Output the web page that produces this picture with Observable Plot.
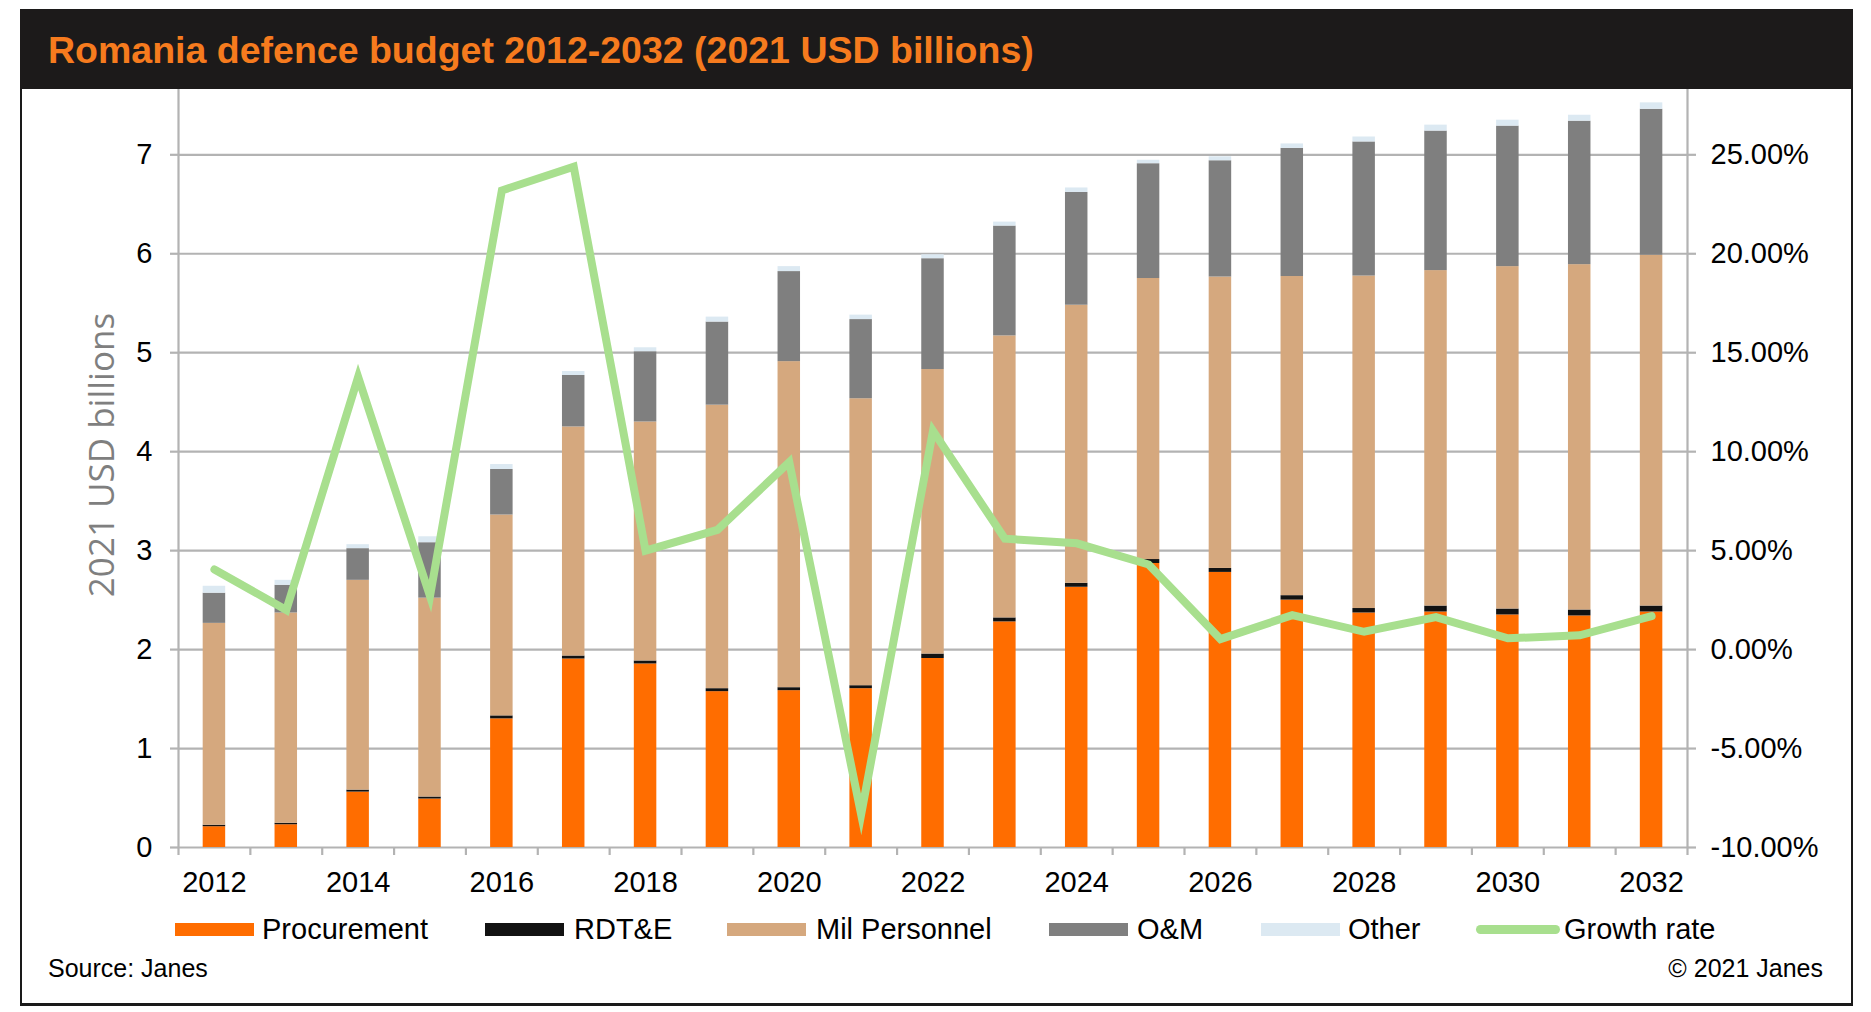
<!DOCTYPE html>
<html>
<head>
<meta charset="utf-8">
<script src="https://cdn.jsdelivr.net/npm/d3@7"></script>
<script src="https://cdn.jsdelivr.net/npm/@observablehq/plot@0.6"></script>
<style>
  html, body { margin: 0; padding: 0; background: #fff; width: 1871px; height: 1012px; overflow: hidden;
    font-family: "Liberation Sans", Arial, sans-serif; }
  #frame { position: absolute; left: 20px; top: 9px; width: 1833px; height: 997px;
    border: 2px solid #1a1a1a; border-bottom-width: 3px; box-sizing: border-box; }
  #titlebar { position: absolute; left: 20px; top: 9px; width: 1833px; height: 80px; background: #1c1a1a; }
  #title { position: absolute; left: 48px; top: 9px; height: 80px; line-height: 82px; font-weight: bold;
    font-size: 37.5px; color: #f67b1e; white-space: nowrap; }
  #chart { position: absolute; left: 0; top: 89px; }
  #ylabel { position: absolute; left: 100px; top: 455px; transform: translate(-50%, -50%) rotate(-90deg);
    font-family: "Open Sans", sans-serif; font-size: 35px; color: #7f7f7f; white-space: nowrap; }
  .leg-sw { position: absolute; height: 13px; top: 923px; }
  .leg-tx { position: absolute; top: 909px; height: 40px; line-height: 40px; font-size: 29px; color: #000; white-space: nowrap; }
  .foot { position: absolute; top: 952px; height: 32px; line-height: 32px; font-size: 25px; color: #000; white-space: nowrap; }
</style>
</head>
<body>
<div id="frame"></div>
<div id="titlebar"></div>
<div id="title">Romania defence budget 2012-2032 (2021 USD billions)</div>
<div id="chart"></div>
<div id="ylabel">2021 USD billions</div>
<div id="legend"></div>
<div class="foot" style="left:48px">Source: Janes</div>
<div class="foot" style="right:48px">© 2021 Janes</div>
<script>
// ---- data ----
const years = [2012, 2013, 2014, 2015, 2016, 2017, 2018, 2019, 2020, 2021, 2022,
               2023, 2024, 2025, 2026, 2027, 2028, 2029, 2030, 2031, 2032];
const categories = ["Procurement", "RDT&E", "Mil Personnel", "O&M", "Other"];
const procurement = [0.21, 0.23, 0.56, 0.49, 1.30, 1.905, 1.855, 1.575, 1.585, 1.605, 1.91,
                     2.28, 2.63, 2.87, 2.78, 2.50, 2.37, 2.38, 2.35, 2.34, 2.38];
const rdte = [0.015, 0.015, 0.02, 0.02, 0.03, 0.03, 0.03, 0.03, 0.03, 0.03, 0.045,
              0.04, 0.04, 0.04, 0.04, 0.045, 0.045, 0.06, 0.06, 0.06, 0.06];
const milPersonnel = [2.04, 2.125, 2.12, 2.01, 2.03, 2.315, 2.415, 2.865, 3.295, 2.90, 2.875,
                      2.85, 2.81, 2.84, 2.945, 3.225, 3.36, 3.39, 3.46, 3.49, 3.545];
const om = [0.305, 0.28, 0.32, 0.56, 0.46, 0.52, 0.71, 0.84, 0.91, 0.80, 1.12,
            1.11, 1.14, 1.16, 1.175, 1.295, 1.355, 1.41, 1.42, 1.45, 1.475];
const other = [0.07, 0.05, 0.04, 0.06, 0.05, 0.04, 0.04, 0.05, 0.05, 0.045, 0.04,
               0.04, 0.045, 0.035, 0.04, 0.045, 0.05, 0.06, 0.06, 0.06, 0.065];
const growthRate = [4.05, 2.0, 13.77, 2.7, 23.2, 24.4, 5.0, 6.05, 9.47, -8.33, 11.05,
                    5.6, 5.37, 4.3, 0.53, 1.74, 0.9, 1.64, 0.57, 0.72, 1.69];
const yTicks = [0, 1, 2, 3, 4, 5, 6, 7];
const xLabelYears = [2012, 2014, 2016, 2018, 2020, 2022, 2024, 2026, 2028, 2030, 2032];
// right axis: -10% at 0 on the left axis, 5 percentage points per left unit
const rightMin = -10, rightStep = 5;

const colors = ["#ff6d00", "#121212", "#d5a87e", "#7f7f7f", "#dce9f2"];
const growthColor = "#a8df8e";
const gridColor = "#b3b3b3";

// ---- tables ----
const series = [procurement, rdte, milPersonnel, om, other];
const rows = [];
years.forEach((yr, i) => categories.forEach((c, j) => rows.push({year: yr, category: c, value: series[j][i]})));
const growthRows = years.map((yr, i) => ({year: yr, growth: growthRate[i]}));

// ---- layout ----
const W = 1871, H = 820;
const plotLeft = 178, plotRight = 1687, plotBottom = 758;
const step = (plotRight - plotLeft) / years.length;

const chart = Plot.plot({
  width: W,
  height: H,
  marginLeft: plotLeft,
  marginRight: W - plotRight,
  marginTop: 0,
  marginBottom: H - plotBottom,
  style: {background: "transparent", fontFamily: "'Liberation Sans', Arial, sans-serif", fontSize: "29px", color: "#000", overflow: "visible"},
  x: {type: "band", domain: years, paddingInner: 0.687, paddingOuter: 0.3435, round: false, axis: null},
  y: {domain: [0, 7.66], axis: null, label: null},
  color: {domain: categories, range: colors},
  marks: [
    Plot.ruleY(yTicks, {stroke: gridColor, strokeWidth: 2.2}),
    Plot.barY(rows, {x: "year", y: "value", fill: "category", order: categories}),
    // axis lines
    Plot.ruleX([years[0]], {dx: -step / 2, stroke: gridColor, strokeWidth: 2.2}),
    Plot.ruleX([years[years.length - 1]], {dx: step / 2, stroke: gridColor, strokeWidth: 2.2}),
    // category boundary ticks
    Plot.ruleX(years, {y1: 0, y2: 0, insetBottom: -8, dx: -step / 2, stroke: gridColor, strokeWidth: 2.2}),
    Plot.ruleX([years[years.length - 1]], {y1: 0, y2: 0, insetBottom: -8, dx: step / 2, stroke: gridColor, strokeWidth: 2.2}),
    Plot.axisX(xLabelYears, {tickSize: 0, tickPadding: 24, fontSize: 29, fill: "#000", label: null,
      tickFormat: d => String(d)}),
    Plot.axisY(yTicks, {anchor: "left", tickSize: 8, text: null, stroke: gridColor, strokeWidth: 2.2, label: null}),
    Plot.axisY(yTicks, {anchor: "left", tickSize: 0, tickPadding: 26, fontSize: 29, fill: "#000", label: null,
      tickFormat: d => String(d)}),
    Plot.axisY(yTicks, {anchor: "right", tickSize: 8, text: null, stroke: gridColor, strokeWidth: 2.2, label: null}),
    Plot.axisY(yTicks, {anchor: "right", tickSize: 0, tickPadding: 23, fontSize: 29, fill: "#000", label: null,
      tickFormat: d => (rightMin + rightStep * d).toFixed(2) + "%"}),
    Plot.line(growthRows, {x: "year", y: d => (d.growth - rightMin) / rightStep, stroke: growthColor,
      strokeWidth: 8, strokeLinejoin: "miter", strokeMiterlimit: 10, strokeLinecap: "round"})
  ]
});
document.getElementById("chart").appendChild(chart);

// ---- legend ----
const legendItems = [
  {label: "Procurement", color: colors[0], sw: 175, tx: 262},
  {label: "RDT&E", color: colors[1], sw: 485, tx: 574},
  {label: "Mil Personnel", color: colors[2], sw: 727, tx: 816},
  {label: "O&M", color: colors[3], sw: 1049, tx: 1137},
  {label: "Other", color: colors[4], sw: 1261, tx: 1348},
  {label: "Growth rate", color: growthColor, sw: 1476, tx: 1564, line: true}
];
const legend = document.getElementById("legend");
legendItems.forEach(it => {
  const sw = document.createElement("div");
  sw.className = "leg-sw";
  sw.style.left = it.sw + "px";
  sw.style.width = (it.line ? 84 : 79) + "px";
  sw.style.background = it.color;
  if (it.line) { sw.style.height = "9px"; sw.style.top = "925px"; sw.style.borderRadius = "5px"; }
  legend.appendChild(sw);
  const tx = document.createElement("div");
  tx.className = "leg-tx";
  tx.style.left = it.tx + "px";
  tx.textContent = it.label;
  legend.appendChild(tx);
});
</script>
</body>
</html>
